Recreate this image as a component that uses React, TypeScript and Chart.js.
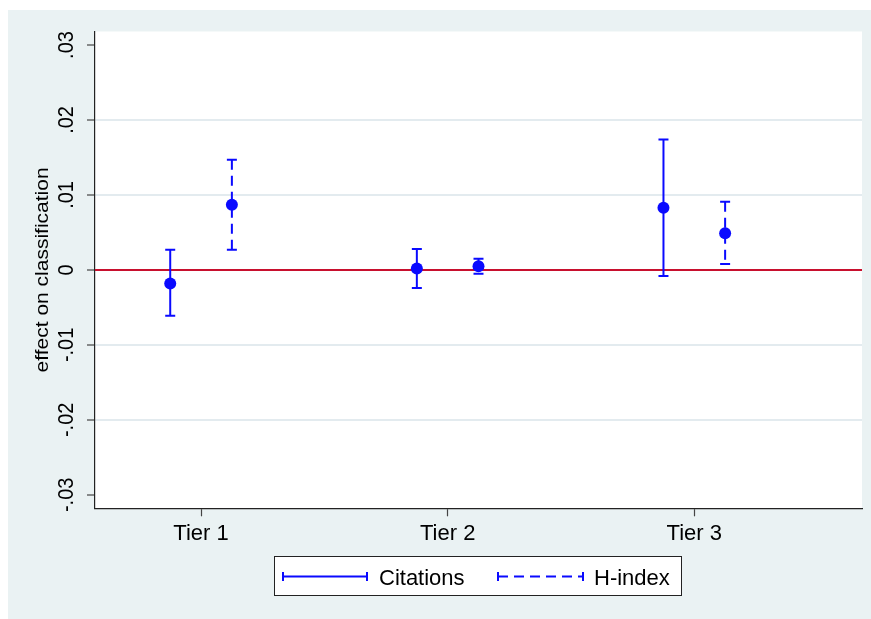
import { useEffect, useRef } from 'react';
import { Chart, registerables } from 'chart.js';

Chart.register(...registerables);

// categories and their positions on the x scale
const tierLabels = ['Tier 1', 'Tier 2', 'Tier 3'];
const tierPositions = [1, 2, 3];
const seriesOffset = 0.125;

// point estimates and confidence bounds
const citationsEst = [-0.0018, 0.0002, 0.0083];
const citationsLo = [-0.0061, -0.0024, -0.0008];
const citationsHi = [0.0027, 0.0028, 0.0174];

const hindexEst = [0.0087, 0.0005, 0.0049];
const hindexLo = [0.0027, -0.0005, 0.0008];
const hindexHi = [0.0147, 0.0015, 0.0091];

const yTickValues = [-0.03, -0.02, -0.01, 0, 0.01, 0.02, 0.03];
const yTickLabels = ['-.03', '-.02', '-.01', '0', '.01', '.02', '.03'];

const FONT = '"Liberation Sans", Arial, Helvetica, sans-serif';
const BLUE = '#0a0aff';
const RED = '#c8102e';
const GRID = '#e3ebef';
const OUTER_BG = 'rgb(234,242,243)';
const HINDEX_DASH = [10, 6];

const drawErrorBar = (ctx: CanvasRenderingContext2D, x: number, yHi: number, yLo: number, dash: number[]) => {
  ctx.save();
  ctx.strokeStyle = BLUE;
  ctx.lineWidth = 2;
  ctx.setLineDash(dash);
  ctx.beginPath();
  ctx.moveTo(x, yHi);
  ctx.lineTo(x, yLo);
  ctx.stroke();
  ctx.setLineDash([]);
  ctx.beginPath();
  ctx.moveTo(x - 5, yHi);
  ctx.lineTo(x + 5, yHi);
  ctx.moveTo(x - 5, yLo);
  ctx.lineTo(x + 5, yLo);
  ctx.stroke();
  ctx.restore();
};

const backgroundPlugin = {
  id: 'stataBackground',
  beforeDraw(chart: any) {
    const { ctx, chartArea, width, height } = chart;
    ctx.save();
    ctx.fillStyle = '#ffffff';
    ctx.fillRect(0, 0, width, height);
    ctx.fillStyle = OUTER_BG;
    ctx.fillRect(8, 10, width - 8, height - 10);
    ctx.fillStyle = '#ffffff';
    ctx.fillRect(chartArea.left, chartArea.top, chartArea.right - chartArea.left, chartArea.bottom - chartArea.top);
    ctx.restore();
  },
};

const errorBarPlugin = {
  id: 'errorBars',
  beforeDatasetsDraw(chart: any) {
    const { ctx, chartArea, scales } = chart;
    const xs = scales.x;
    const ys = scales.y;

    // reference line at zero
    const y0 = ys.getPixelForValue(0);
    ctx.save();
    ctx.strokeStyle = RED;
    ctx.lineWidth = 2;
    ctx.beginPath();
    ctx.moveTo(chartArea.left, y0);
    ctx.lineTo(chartArea.right, y0);
    ctx.stroke();
    ctx.restore();

    tierPositions.forEach((pos, i) => {
      drawErrorBar(ctx, xs.getPixelForValue(pos - seriesOffset), ys.getPixelForValue(citationsHi[i]), ys.getPixelForValue(citationsLo[i]), []);
      drawErrorBar(ctx, xs.getPixelForValue(pos + seriesOffset), ys.getPixelForValue(hindexHi[i]), ys.getPixelForValue(hindexLo[i]), HINDEX_DASH);
    });
  },
};

const axisTextPlugin = {
  id: 'axisText',
  afterDraw(chart: any) {
    const { ctx, scales, chartArea } = chart;
    const ys = scales.y;
    ctx.save();
    ctx.fillStyle = '#000';
    ctx.textAlign = 'center';
    ctx.textBaseline = 'alphabetic';

    // rotated y tick labels
    ctx.font = `20px ${FONT}`;
    yTickValues.forEach((v, i) => {
      ctx.save();
      ctx.translate(73, ys.getPixelForValue(v));
      ctx.rotate(-Math.PI / 2);
      ctx.scale(1, 1.1);
      ctx.fillText(yTickLabels[i], 0, 0);
      ctx.restore();
    });

    // y axis title
    ctx.font = `21px ${FONT}`;
    ctx.save();
    ctx.translate(48, (chartArea.top + chartArea.bottom) / 2);
    ctx.rotate(-Math.PI / 2);
    ctx.scale(1, 0.88);
    ctx.fillText('effect on classification', 0, 0);
    ctx.restore();

    // legend
    const box = { left: 274.5, top: 556.5, right: 681.5, bottom: 595.5 };
    ctx.fillStyle = '#ffffff';
    ctx.fillRect(box.left, box.top, box.right - box.left, box.bottom - box.top);
    ctx.strokeStyle = '#222';
    ctx.lineWidth = 1;
    ctx.strokeRect(box.left, box.top, box.right - box.left, box.bottom - box.top);

    const ly = 576.5;
    const sample = (x1: number, x2: number, dash: number[]) => {
      ctx.save();
      ctx.strokeStyle = BLUE;
      ctx.lineWidth = 2;
      ctx.setLineDash(dash);
      ctx.beginPath();
      ctx.moveTo(x1, ly);
      ctx.lineTo(x2, ly);
      ctx.stroke();
      ctx.setLineDash([]);
      ctx.beginPath();
      ctx.moveTo(x1, ly - 4.5);
      ctx.lineTo(x1, ly + 4.5);
      ctx.moveTo(x2, ly - 4.5);
      ctx.lineTo(x2, ly + 4.5);
      ctx.stroke();
      ctx.restore();
    };
    sample(283, 367, []);
    sample(498, 583, HINDEX_DASH);

    ctx.fillStyle = '#000';
    ctx.font = `22px ${FONT}`;
    ctx.textAlign = 'left';
    ctx.fillText('Citations', 379, 585);
    ctx.fillText('H-index', 594, 585);
    ctx.restore();
  },
};

export default function App() {
  const canvasRef = useRef<HTMLCanvasElement>(null);
  const chartRef = useRef<Chart | null>(null);

  useEffect(() => {
    document.body.style.margin = '0';
    if (!canvasRef.current) return;

    if (chartRef.current) {
      chartRef.current.destroy();
    }

    const citationPoints = tierPositions.map((p, i) => ({ x: p - seriesOffset, y: citationsEst[i] }));
    const hindexPoints = tierPositions.map((p, i) => ({ x: p + seriesOffset, y: hindexEst[i] }));

    chartRef.current = new Chart(canvasRef.current, {
      type: 'scatter',
      data: {
        datasets: [
          { label: 'Citations', data: citationPoints, pointRadius: 6, pointBackgroundColor: BLUE, pointBorderColor: BLUE, pointBorderWidth: 0, showLine: false },
          { label: 'H-index', data: hindexPoints, pointRadius: 6, pointBackgroundColor: BLUE, pointBorderColor: BLUE, pointBorderWidth: 0, showLine: false },
        ],
      },
      options: {
        responsive: false,
        animation: false,
        devicePixelRatio: 1,
        layout: { padding: { left: 0, top: 31.5, right: 9, bottom: 0 } },
        plugins: {
          legend: { display: false },
          tooltip: { enabled: false },
        },
        scales: {
          x: {
            type: 'linear',
            min: 0.57,
            max: 3.68,
            afterBuildTicks: (scale: any) => {
              scale.ticks = tierPositions.map((v) => ({ value: v }));
            },
            afterFit: (scale: any) => {
              scale.height = 110.7;
            },
            grid: { drawOnChartArea: false, drawTicks: true, tickLength: 8, tickColor: '#444', tickWidth: 1.2 },
            border: { display: true, color: '#222', width: 1.2 },
            ticks: {
              padding: 4,
              color: '#000',
              font: { family: FONT, size: 22 },
              maxRotation: 0,
              callback: (value: any) => tierLabels[tierPositions.indexOf(Number(value))] ?? '',
            },
          },
          y: {
            type: 'linear',
            min: -0.0318,
            max: 0.0318,
            afterBuildTicks: (scale: any) => {
              scale.ticks = yTickValues.map((v) => ({ value: v }));
            },
            afterFit: (scale: any) => {
              scale.width = 95;
            },
            grid: {
              drawTicks: true,
              tickLength: 8,
              lineWidth: 2,
              tickWidth: 1.2,
              tickColor: '#444',
              color: (c: any) => {
                const v = c.tick?.value;
                return v !== undefined && v !== 0 && Math.abs(v) < 0.025 ? GRID : 'rgba(0,0,0,0)';
              },
            },
            border: { display: true, color: '#222', width: 1.2 },
            ticks: { display: false },
          },
        },
      },
      plugins: [backgroundPlugin, errorBarPlugin, axisTextPlugin],
    });

    return () => {
      if (chartRef.current) {
        chartRef.current.destroy();
        chartRef.current = null;
      }
    };
  }, []);

  return (
    <div style={{ width: 871, height: 619 }}>
      <canvas ref={canvasRef} width={871} height={619} style={{ display: 'block' }} />
    </div>
  );
}
